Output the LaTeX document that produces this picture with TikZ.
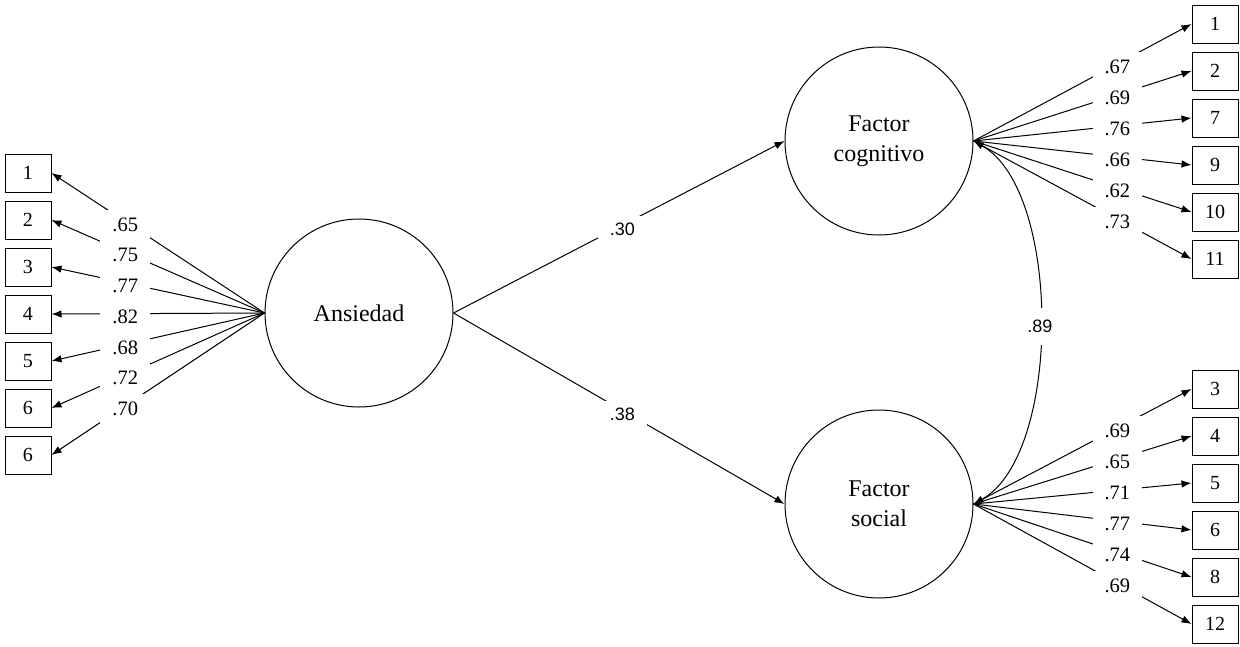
\documentclass[tikz,border=0pt]{standalone}
\usepackage{fontspec}
\setmainfont{Liberation Serif}
\setsansfont{Liberation Sans}
\usetikzlibrary{arrows.meta}
\begin{document}
\begin{tikzpicture}[x=1pt,y=-1pt,
  latent/.style={circle,draw,line width=1pt,minimum size=188pt,inner sep=0pt,align=center,font=\fontsize{24}{30}\selectfont},
  obs/.style={draw,line width=1pt,minimum width=46pt,minimum height=38pt,inner sep=0pt,font=\fontsize{20}{24}\selectfont},
  ld/.style={line width=1pt,-{Latex[length=10pt,width=7.5pt]}},
  cov/.style={line width=1pt,{Latex[length=10pt,width=7.5pt]}-{Latex[length=10pt,width=7.5pt]}},
  lbl/.style={fill=white,inner xsep=12pt,inner ysep=8pt,yshift=-3pt,font=\fontsize{20.5}{24}\selectfont},
  slbl/.style={fill=white,inner xsep=12pt,inner ysep=7pt,yshift=-4pt,font=\sffamily\fontsize{18}{20}\selectfont},
]
\useasboundingbox (0,0) rectangle (1240,646);
\node[latent] (A) at (359,313) {Ansiedad};
\node[latent] (C) at (879,141) {Factor\\cognitivo};
\node[latent] (S) at (879,504) {Factor\\social};

\foreach \t/\v [count=\k from 0] in {1/.65,2/.75,3/.77,4/.82,5/.68,6/.72,6/.70} {
  \node[obs] (L\k) at (28,{173+47*\k}) {\t};
  \draw[ld] (A.west) -- node[lbl,pos=0.654]{\v} (L\k.east);
}
\foreach \t/\v [count=\k from 0] in {1/.67,2/.69,7/.76,9/.66,10/.62,11/.73} {
  \node[obs] (R\k) at (1215,{24+47*\k}) {\t};
  \draw[ld] (C.east) -- node[lbl,pos=0.66]{\v} (R\k.west);
}
\foreach \t/\v [count=\k from 0] in {3/.69,4/.65,5/.71,6/.77,8/.74,12/.69} {
  \node[obs] (Q\k) at (1215,{389+47*\k}) {\t};
  \draw[ld] (S.east) -- node[lbl,pos=0.66]{\v} (Q\k.west);
}
\draw[ld] (A.east) -- node[slbl,pos=0.51]{.30} (C.west);
\draw[ld] (A.east) -- node[slbl,pos=0.51]{.38} (S.west);
\draw[cov] (C.east) .. controls (1062,190) and (1062,455) .. node[slbl,inner ysep=12pt]{.89} (S.east);
\end{tikzpicture}
\end{document}
